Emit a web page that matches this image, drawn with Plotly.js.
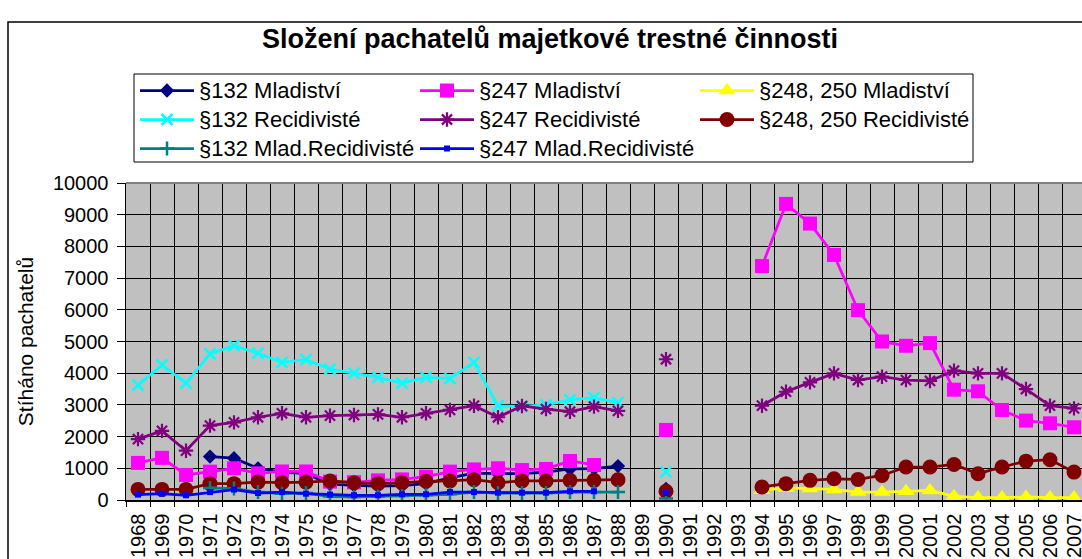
<!DOCTYPE html>
<html>
<head>
<meta charset="utf-8">
<script src="https://cdn.plot.ly/plotly-3.0.1.min.js"></script>
<style>
html,body{margin:0;padding:0;background:#fff;overflow:hidden;}
#chart{width:1100px;height:620px;}
</style>
</head>
<body>
<div id="chart"></div>
<script>
const years = ["1968","1969","1970","1971","1972","1973","1974","1975","1976","1977",
  "1978","1979","1980","1981","1982","1983","1984","1985","1986","1987",
  "1988","1989","1990","1991","1992","1993","1994","1995","1996","1997",
  "1998","1999","2000","2001","2002","2003","2004","2005","2006","2007"];

const p132Mladistvi = [null,null,null,1370,1320,1000,880,830,500,460,
  440,450,520,700,850,830,830,880,980,990,
  1070,null,350,null,null,null,null,null,null,null,
  null,null,null,null,null,null,null,null,null,null];

const p247Mladistvi = [1170,1330,790,895,1000,840,900,900,580,560,
  620,650,735,895,965,1000,945,980,1230,1105,
  null,null,2210,null,null,null,7380,9340,8720,7730,
  5990,5000,4865,4950,3480,3430,2840,2505,2420,2295];

const p248Mladistvi = [null,null,null,null,null,null,null,null,null,null,
  null,null,null,null,null,null,null,null,null,null,
  null,null,null,null,null,null,310,380,360,335,
  250,250,275,300,115,75,75,95,75,75];

const p132Recidiviste = [3625,4260,3690,4610,4870,4630,4340,4430,4130,4000,
  3870,3690,3870,3830,4340,2970,2950,3000,3160,3230,
  3070,null,890,null,null,null,null,null,null,null,
  null,null,null,null,null,null,null,null,null,null];

const p247Recidiviste = [1920,2180,1555,2345,2450,2610,2735,2610,2660,2680,
  2700,2610,2735,2840,2975,2610,2965,2870,2785,2945,
  2810,null,4440,null,null,null,2975,3415,3710,3995,
  3785,3890,3785,3755,4080,3995,3995,3500,2975,2890];

const p248Recidiviste = [335,335,335,515,515,565,545,565,600,545,
  515,545,590,600,640,545,600,600,620,620,
  640,null,275,null,null,null,410,515,620,670,
  650,775,1040,1040,1120,830,1040,1225,1270,880];

const p132MladRecid = [null,null,null,380,360,250,200,220,110,95,
  110,125,150,180,250,220,220,220,250,250,
  250,null,45,null,null,null,null,null,null,null,
  null,null,null,null,null,null,null,null,null,null];

const p247MladRecid = [170,200,150,250,330,220,250,200,170,150,
  150,180,180,250,250,230,230,230,275,275,
  null,null,220,null,null,null,null,null,null,null,
  null,null,null,null,null,null,null,null,null,null];

const seriesNames = ["§132 Mladiství","§247 Mladiství","§248, 250 Mladiství",
  "§132 Recidivisté","§247 Recidivisté","§248, 250 Recidivisté",
  "§132 Mlad.Recidivisté","§247 Mlad.Recidivisté"];

const FONT = "Liberation Sans, Arial, sans-serif";

function tr(name, y, color, symbol, size, lw, open) {
  const m = {symbol: symbol, size: size, color: color};
  m.line = {color: color, width: open ? lw : 0};
  return {
    type: 'scatter', mode: 'lines+markers', x: years, y: y,
    name: '<span style="font-size:22px">' + name + '</span>',
    connectgaps: false,
    line: {color: color, width: 2.75},
    marker: m,
    hoverinfo: 'x+y'
  };
}

const data = [
  tr(seriesNames[0], p132Mladistvi, '#000080', 'diamond', 11, 0, false),
  tr(seriesNames[1], p247Mladistvi, '#FF00FF', 'square', 14, 0, false),
  tr(seriesNames[2], p248Mladistvi, '#FFFF00', 'triangle-up', 15, 0, false),
  tr(seriesNames[3], p132Recidiviste, '#00FFFF', 'x-thin-open', 11, 2.5, true),
  tr(seriesNames[4], p247Recidiviste, '#800080', 'asterisk-open', 12, 2.2, true),
  tr(seriesNames[5], p248Recidiviste, '#800000', 'circle', 15, 0, false),
  tr(seriesNames[6], p132MladRecid, '#008080', 'cross-thin-open', 10, 2.5, true),
  tr(seriesNames[7], p247MladRecid, '#0000FF', 'square', 6, 0, false)
];

const PL = 126, PT = 183, PW = 960, PH = 317, PB = PT + PH;
function px(x) { return (x - PL) / PW; }
function py(y) { return (PB - y) / PH; }

const layout = {
  width: 1100, height: 620,
  margin: {l: PL, r: 14, t: PT, b: 120, pad: 0},
  paper_bgcolor: '#FFFFFF',
  plot_bgcolor: '#C0C0C0',
  font: {family: FONT, color: '#000', size: 20},
  title: {
    text: '<b>Složení pachatelů majetkové trestné činnosti</b>',
    font: {family: FONT, size: 27, color: '#000'},
    x: 0.5, xref: 'container', xanchor: 'center',
    y: 1 - 39/620, yref: 'container', yanchor: 'middle'
  },
  showlegend: true,
  legend: {
    orientation: 'h',
    x: px(135), xanchor: 'left',
    y: py(71), yanchor: 'top',
    bgcolor: 'rgba(0,0,0,0)', borderwidth: 0,
    font: {family: FONT, size: 20, color: '#000'},
    itemwidth: 54,
    entrywidth: 211,
    entrywidthmode: 'pixels',
    traceorder: 'normal',
    itemclick: false, itemdoubleclick: false
  },
  xaxis: {
    type: 'category',
    categoryorder: 'array', categoryarray: years,
    range: [-0.5, 39.5],
    tickson: 'boundaries',
    ticks: 'outside', ticklen: 5, tickcolor: '#000', tickwidth: 1,
    tickangle: -90,
    ticklabelstandoff: 4,
    tickfont: {family: FONT, size: 20, color: '#000'},
    showgrid: true, gridcolor: '#000', gridwidth: 1,
    showline: true, linecolor: '#000', linewidth: 1.5,
    zeroline: false, automargin: false, fixedrange: true
  },
  yaxis: {
    range: [0, 10000], dtick: 1000, tick0: 0,
    tickformat: 'd', exponentformat: 'none',
    ticks: 'outside', ticklen: 8, tickcolor: '#000', tickwidth: 1,
    tickfont: {family: FONT, size: 20, color: '#000'},
    ticklabelstandoff: 4,
    showgrid: true, gridcolor: '#000', gridwidth: 1,
    showline: true, linecolor: '#000', linewidth: 1.5,
    zeroline: false, automargin: false, fixedrange: true,
    title: {text: 'Stíháno pachatelů', font: {family: FONT, size: 21, color: '#000'}, standoff: 13}
  },
  shapes: [
    {type: 'rect', xref: 'paper', yref: 'paper',
     x0: px(8), x1: 1.5, y0: -1, y1: py(22),
     line: {color: '#000', width: 1.5}, fillcolor: 'rgba(0,0,0,0)', layer: 'below'},
    {type: 'rect', xref: 'paper', yref: 'paper',
     x0: px(134), x1: px(973), y0: py(162), y1: py(74),
     line: {color: '#000', width: 1}, fillcolor: '#FFFFFF', layer: 'below'},
    {type: 'line', xref: 'paper', yref: 'paper', x0: 0, x1: 1, y0: 1, y1: 1,
     line: {color: '#808080', width: 2}}
  ]
};

Plotly.newPlot('chart', data, layout, {displayModeBar: false, staticPlot: true});
</script>
</body>
</html>
